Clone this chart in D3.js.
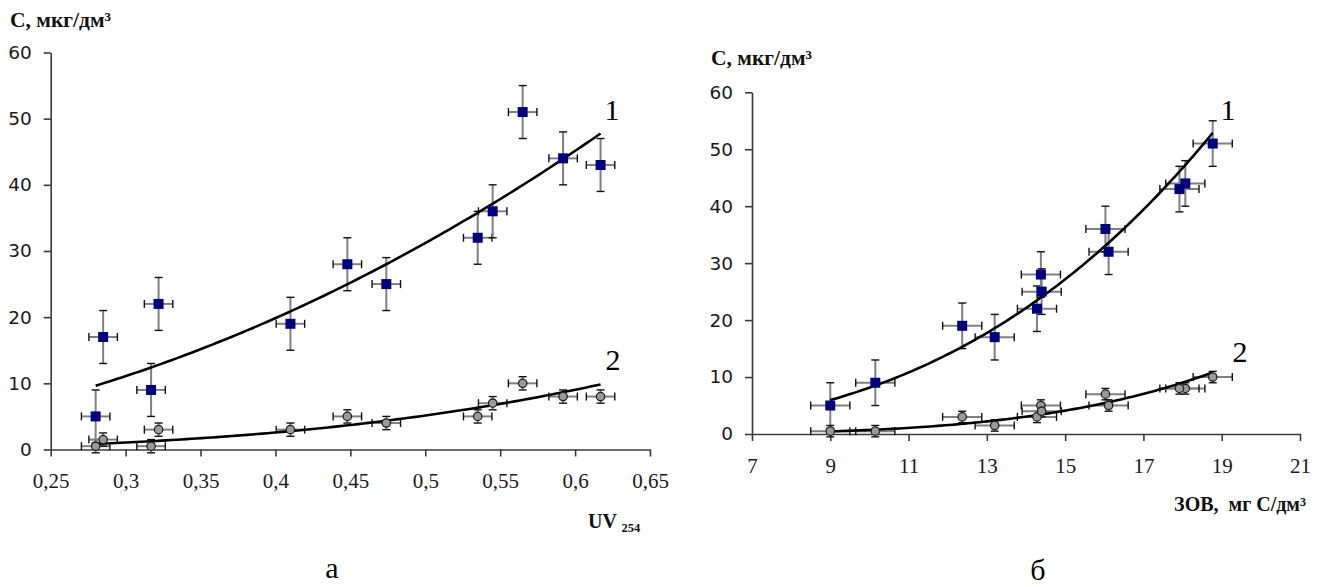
<!DOCTYPE html>
<html><head><meta charset="utf-8">
<script src="https://cdn.jsdelivr.net/npm/d3@7"></script>
<style>html,body{margin:0;padding:0;background:#fff;}</style>
</head><body>
<svg id="c" width="1328" height="587"></svg>
<script>
// samples (same 12 water samples in both panels)
const uv  = [0.280, 0.285, 0.322, 0.317, 0.410, 0.448, 0.474, 0.535, 0.545, 0.565, 0.592, 0.617];
const zov = [9.00, 13.20, 14.28, 10.15, 12.37, 14.38, 14.40, 16.11, 16.03, 18.77, 18.07, 17.92];
const c1  = [5, 17, 22, 9, 19, 28, 25, 32, 36, 51, 44, 43];
const c2  = [0.5, 1.5, 3, 0.5, 3, 5, 4, 5, 7, 10, 8, 8];
// error bar half-widths
const errC1 = 4, errC2 = 1, errUV = 0.0095, errZOV = 0.5;
// tick values / labels
const yTicks = [0, 10, 20, 30, 40, 50, 60];
const xTicksL = [0.25, 0.3, 0.35, 0.4, 0.45, 0.5, 0.55, 0.6, 0.65];
const xTickLabelsL = ["0,25","0,3","0,35","0,4","0,45","0,5","0,55","0,6","0,65"];
const xTicksR = [7, 9, 11, 13, 15, 17, 19, 21];

const svg = d3.select("#c");
svg.append("rect").attr("width",1328).attr("height",587).attr("fill","#fff");

function powerFit(xs, ys){
  const lx = xs.map(Math.log), ly = ys.map(Math.log);
  const mx = d3.mean(lx), my = d3.mean(ly);
  let sxy=0, sxx=0;
  lx.forEach((v,i)=>{ sxy += (v-mx)*(ly[i]-my); sxx += (v-mx)*(v-mx); });
  const b = sxy/sxx, a = Math.exp(my - b*mx);
  return x => a*Math.pow(x,b);
}

const serif = "Liberation Serif, Times New Roman, serif";

function panel(cfg){
  const g = svg.append("g");
  const x = d3.scaleLinear().domain(cfg.xDomain).range(cfg.xRange);
  const y = d3.scaleLinear().domain([0,60]).range(cfg.yRange);

  // axes
  const ya = g.append("g").attr("transform",`translate(${cfg.xRange[0]},0)`)
    .call(d3.axisLeft(y).tickValues(yTicks).tickSize(7).tickSizeOuter(0).tickPadding(cfg.yPad));
  ya.selectAll("path,line").attr("stroke","#3a3a3a").attr("stroke-width",1.6);
  ya.selectAll("text").attr("font-family","DejaVu Sans, Verdana, sans-serif").attr("font-size",18.5).attr("fill","#1a1a1a");
  const xa = g.append("g").attr("transform",`translate(0,${cfg.yRange[0]})`)
    .call(d3.axisBottom(x).tickValues(cfg.xTicks).tickFormat(cfg.xFmt).tickSize(7).tickSizeOuter(0).tickPadding(cfg.xPad));
  xa.selectAll("path,line").attr("stroke","#3a3a3a").attr("stroke-width",1.6);
  xa.selectAll("text").attr("font-family",serif).attr("font-size",cfg.xFont).attr("fill","#1a1a1a");

  const xs = cfg.xs;
  const series = [
    {ys: c1, err: errC1},
    {ys: c2, err: errC2}
  ];
  series.forEach(s=>{
    const eb = g.append("g");
    xs.forEach((xv,i)=>{
      const yv = s.ys[i];
      const px = x(xv), py = y(yv);
      eb.append("line").attr("x1",x(xv-cfg.xErr)).attr("x2",x(xv+cfg.xErr)).attr("y1",py).attr("y2",py)
        .attr("stroke","#808080").attr("stroke-width",2);
      [xv-cfg.xErr, xv+cfg.xErr].forEach(e=>{
        eb.append("line").attr("x1",x(e)).attr("x2",x(e)).attr("y1",py-4).attr("y2",py+4)
          .attr("stroke","#111").attr("stroke-width",1.4);
      });
      eb.append("line").attr("x1",px).attr("x2",px).attr("y1",y(yv-s.err)).attr("y2",y(yv+s.err))
        .attr("stroke","#808080").attr("stroke-width",2);
      [yv-s.err, yv+s.err].forEach(e=>{
        eb.append("line").attr("x1",px-4).attr("x2",px+4).attr("y1",y(e)).attr("y2",y(e))
          .attr("stroke","#111").attr("stroke-width",1.4);
      });
    });
  });

  // trend lines (power fit, like spreadsheet trendline)
  series.forEach(s=>{
    const f = powerFit(xs, s.ys);
    const x0 = d3.min(xs), x1 = d3.max(xs);
    const pts = d3.range(0,101).map(k=>{ const xv = x0 + (x1-x0)*k/100; return [x(xv), y(f(xv))]; });
    g.append("path").attr("d", d3.line()(pts)).attr("fill","none").attr("stroke","#000").attr("stroke-width",2.6);
  });

  // markers
  xs.forEach((xv,i)=>{
    g.append("rect").attr("x",x(xv)-5).attr("y",y(c1[i])-5).attr("width",10).attr("height",10).attr("fill","#000080");
  });
  xs.forEach((xv,i)=>{
    g.append("circle").attr("cx",x(xv)).attr("cy",y(c2[i])).attr("r",4.2)
      .attr("fill","#9a9a9a").attr("stroke","#222").attr("stroke-width",1.3);
  });

  // curve numbers
  g.append("text").attr("x",cfg.n1[0]).attr("y",cfg.n1[1]).attr("font-family",serif).attr("font-size",30).attr("text-anchor","middle").text("1");
  g.append("text").attr("x",cfg.n2[0]).attr("y",cfg.n2[1]).attr("font-family",serif).attr("font-size",30).attr("text-anchor","middle").text("2");

  // y title
  g.append("text").attr("x",cfg.yTitle[0]).attr("y",cfg.yTitle[1]).attr("font-family",serif).attr("font-weight","bold")
    .attr("font-size",21.5).attr("fill","#111").text("С, мкг/дм³");
  return {g, x, y};
}

panel({
  xDomain:[0.25,0.65], xRange:[50.7,650], yRange:[449.5,52.5],
  xTicks: xTicksL, xFmt: (d,i)=>xTickLabelsL[i], xs: uv, xErr: errUV,
  yPad: 12, xPad: 17, xFont: 21,
  n1:[612,120], n2:[613,370], yTitle:[10,27]
});
panel({
  xDomain:[7,21], xRange:[752,1300], yRange:[434,92.3],
  xTicks: xTicksR, xFmt: d=>String(d), xs: zov, xErr: errZOV,
  yPad: 12, xPad: 17, xFont: 21,
  n1:[1228,120], n2:[1240,362], yTitle:[711,65]
});

// x titles
const uvT = svg.append("text").attr("x",588).attr("y",528).attr("font-family",serif).attr("font-weight","bold").attr("font-size",20).attr("fill","#111");
uvT.append("tspan").text("UV ");
uvT.append("tspan").attr("font-size",12.5).attr("dy",4).text("254");

svg.append("text").attr("x",1306).attr("y",511).attr("text-anchor","end").attr("font-family",serif).attr("font-weight","bold")
  .attr("font-size",20).attr("fill","#111").attr("xml:space","preserve").text("ЗОВ,  мг С/дм³");

// panel letters
svg.append("text").attr("x",332).attr("y",578).attr("text-anchor","middle").attr("font-family",serif).attr("font-size",30).text("а");
svg.append("text").attr("x",1038).attr("y",580).attr("text-anchor","middle").attr("font-family",serif).attr("font-size",30).text("б");
</script>
</body></html>
